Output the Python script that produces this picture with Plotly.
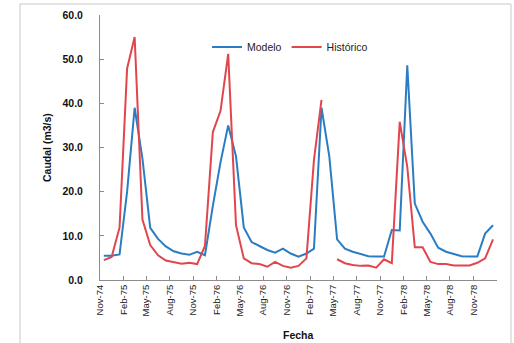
import pandas as pd
import plotly.graph_objects as go

# Monthly dates Nov-74 .. Jan-79
months = pd.date_range("1974-11-01", periods=51, freq="MS").strftime("%Y-%m-%d").tolist()

modelo = [5.5, 5.5, 5.8, 20.0, 39.0, 27.5, 11.8, 9.3, 7.6, 6.5, 6.0, 5.7, 6.4, 5.6,
          16.8, 26.7, 35.0, 28.0, 11.9, 8.6, 7.7, 6.8, 6.2, 7.1, 6.0,
          5.3, 6.0, 7.1, 39.0, 28.0, 9.2, 7.1, 6.4, 5.9, 5.4, 5.3, 5.3, 11.3, 11.2,
          48.6, 17.3, 13.2, 10.5, 7.3, 6.4, 5.9, 5.4, 5.3, 5.3, 10.5, 12.4]

historico = [4.5, 5.2, 11.9, 47.9, 55.0, 13.7, 7.9, 5.6, 4.4, 4.1, 3.7, 3.9, 3.6, 7.7,
             33.5, 38.3, 51.2, 12.4, 4.9, 3.8, 3.6, 3.0, 4.1, 3.2, 2.8,
             3.2, 4.9, 27.2, 40.8, None, 4.7, 3.8, 3.4, 3.2, 3.3, 2.8, 4.7, 3.8, 35.8,
             25.6, 7.4, 7.4, 4.1, 3.6, 3.6, 3.3, 3.3, 3.3, 3.9, 4.9, 9.2]

tick_dates = months[::3][:17]  # Nov-74 ... Nov-78

BLUE = "#2b7dc3"
RED = "#e0464c"
FONT = "Liberation Sans"

fig = go.Figure()
fig.add_trace(go.Scatter(x=months, y=modelo, name="Modelo", mode="lines",
                         line=dict(color=BLUE, width=2),
                         xperiod="M1", xperiodalignment="middle"))
fig.add_trace(go.Scatter(x=months, y=historico, name="Histórico", mode="lines",
                         line=dict(color=RED, width=2), connectgaps=False,
                         xperiod="M1", xperiodalignment="middle"))

L, R, T, B = 100, 497, 15, 280
W, H = 514, 343
pw, ph = R - L, B - T

def px(x):
    return (x - L) / pw

def py(y):
    return (B - y) / ph

fig.update_layout(
    width=W, height=H,
    margin=dict(l=L, r=W - R, t=T, b=H - B),
    paper_bgcolor="white", plot_bgcolor="white",
    font=dict(family=FONT, color="#000000"),
    showlegend=True,
    legend=dict(orientation="h", x=px(290), xanchor="center", y=py(47), yanchor="middle",
                font=dict(size=10.5, family=FONT, color="#222"), bgcolor="rgba(0,0,0,0)",
                itemwidth=30, tracegroupgap=0),
    xaxis=dict(type="date", range=["1974-11-01", "1979-02-01"],
               tickmode="array", tickvals=tick_dates, tickformat="%b-%y",
               tickangle=-90, tickfont=dict(size=9.5, family=FONT, color="#222"),
               showgrid=False, zeroline=False, showline=True, linecolor="#8c8c8c",
               linewidth=1, ticks="inside", ticklen=4, tickcolor="#8c8c8c",
               automargin=False),
    yaxis=dict(range=[0, 60], dtick=10, tickformat=".1f",
               tickfont=dict(size=10.5, family=FONT, color="#111", weight="bold"),
               showgrid=False, zeroline=False, showline=True, linecolor="#8c8c8c",
               linewidth=1, ticks="inside", ticklen=4, tickcolor="#8c8c8c",
               ticklabelstandoff=14, automargin=False),
    annotations=[
        dict(text="<b>Caudal (m3/s)</b>", xref="paper", yref="paper",
             x=px(47), y=py(148), xanchor="center", yanchor="middle",
             textangle=-90, showarrow=False, font=dict(size=10.5, family=FONT, color="#111")),
        dict(text="<b>Fecha</b>", xref="paper", yref="paper",
             x=px(298), y=py(335), xanchor="center", yanchor="middle",
             showarrow=False, font=dict(size=10.5, family=FONT, color="#111")),
    ],
    shapes=[dict(type="rect", xref="paper", yref="paper",
                 x0=px(20), x1=px(511), y0=py(4), y1=py(350),
                 line=dict(color="#c8c8c8", width=1), layer="below")],
)

fig.write_html("out.html", config={"displayModeBar": False},
               post_script="document.body.style.margin='0';document.body.style.overflow='hidden';")
